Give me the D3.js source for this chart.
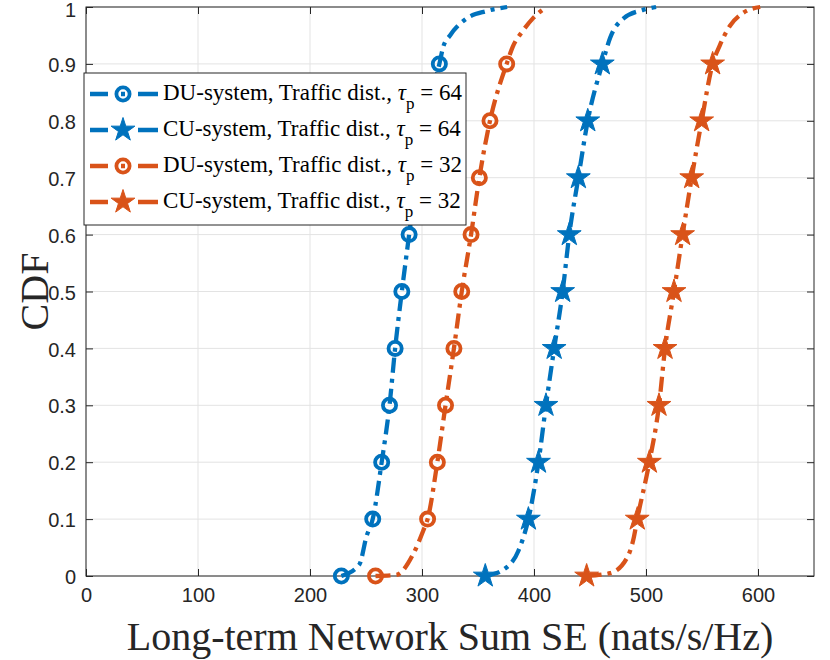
<!DOCTYPE html>
<html>
<head>
<meta charset="utf-8">
<script src="https://cdn.jsdelivr.net/npm/d3@7"></script>
<style>
  body { margin: 0; background: #fff; }
  svg { display: block; }
</style>
</head>
<body>
<div id="chart"></div>
<script>
// Axis ticks
const xTicks = [0, 100, 200, 300, 400, 500, 600];
const yTicks = [0, 0.1, 0.2, 0.3, 0.4, 0.5, 0.6, 0.7, 0.8, 0.9, 1];
const yTickLabels = ["0", "0.1", "0.2", "0.3", "0.4", "0.5", "0.6", "0.7", "0.8", "0.9", "1"];

// CDF levels where markers are drawn
const markerLevels = [0, 0.1, 0.2, 0.3, 0.4, 0.5, 0.6, 0.7, 0.8, 0.9];

// DU-system, tau_p = 64
const du64Cdf = [0, 0.02, 0.07, 0.1, 0.2, 0.3, 0.4, 0.5, 0.6, 0.7, 0.8, 0.9, 0.93, 0.95, 0.98, 0.993, 1];
const du64Se  = [228, 244, 250.5, 256, 264, 271, 276, 282, 288.5, 295, 303, 315.5, 319, 325, 340, 358, 376];

// CU-system, tau_p = 64
const cu64Cdf = [0, 0.011, 0.044, 0.1, 0.2, 0.3, 0.4, 0.5, 0.6, 0.7, 0.8, 0.9, 0.946, 0.98, 0.995, 1];
const cu64Se  = [356.5, 372.6, 386, 395, 404, 410.7, 418, 425.6, 431.5, 439.6, 448, 461, 468, 480, 497.5, 509];

// DU-system, tau_p = 32
const du32Cdf = [0, 0.002, 0.038, 0.079, 0.1, 0.2, 0.3, 0.4, 0.5, 0.6, 0.7, 0.8, 0.9, 0.93, 0.958, 0.98, 1];
const du32Se  = [258.5, 277, 292, 301, 305, 313.7, 321, 328.5, 335.5, 343.8, 351.2, 360.7, 375.6, 381, 390, 399, 411];

// CU-system, tau_p = 32
const cu32Cdf = [0, 0.005, 0.031, 0.064, 0.1, 0.2, 0.3, 0.4, 0.5, 0.6, 0.7, 0.8, 0.9, 0.933, 0.967, 0.99, 1];
const cu32Se  = [447, 468, 482.8, 488.7, 492.2, 503, 511.6, 517, 525, 532.7, 540.8, 549.7, 559.5, 566, 575, 587, 602];

const seriesLabels = ["DU-system, Traffic dist., ", "CU-system, Traffic dist., ", "DU-system, Traffic dist., ", "CU-system, Traffic dist., "];
const seriesTau = ["64", "64", "32", "32"];
const seriesColors = ["#0072BD", "#0072BD", "#D95319", "#D95319"];
const seriesMarkers = ["circle", "star", "circle", "star"];

const series = [
    { cdf: du64Cdf, se: du64Se },
    { cdf: cu64Cdf, se: cu64Se },
    { cdf: du32Cdf, se: du32Se },
    { cdf: cu32Cdf, se: cu32Se }
].map((s, i) => ({
    points: s.se.map((v, j) => ({ x: v, y: s.cdf[j] })),
    label: seriesLabels[i],
    tau: seriesTau[i],
    color: seriesColors[i],
    marker: seriesMarkers[i]
}));

const width = 830;
const height = 660;
const margin = { top: 7, right: 16, bottom: 84, left: 86 };
const axisColor = "#262626";
const dash = "15,6,4,6";

const svg = d3.select("#chart")
    .append("svg")
    .attr("width", width)
    .attr("height", height);

const x = d3.scaleLinear().domain([0, 650]).range([margin.left, width - margin.right]);
const y = d3.scaleLinear().domain([0, 1]).range([height - margin.bottom, margin.top]);

// grid
svg.append("g")
    .selectAll("line")
    .data(xTicks)
    .join("line")
    .attr("x1", d => x(d)).attr("x2", d => x(d))
    .attr("y1", y(0)).attr("y2", y(1))
    .attr("stroke", "#e3e3e3");

svg.append("g")
    .selectAll("line")
    .data(yTicks)
    .join("line")
    .attr("x1", x(0)).attr("x2", x(650))
    .attr("y1", d => y(d)).attr("y2", d => y(d))
    .attr("stroke", "#e3e3e3");

// axes (ticks point inward, box on)
const tickLen = 7;
const styleAxis = g => {
    g.select(".domain").remove();
    g.selectAll(".tick line").attr("stroke", axisColor);
    g.selectAll(".tick text")
        .attr("fill", axisColor)
        .style("font-family", "'Liberation Sans', Arial, sans-serif")
        .style("font-size", "20px");
};

svg.append("g")
    .attr("transform", `translate(0,${y(0)})`)
    .call(d3.axisBottom(x).tickValues(xTicks).tickSizeInner(-tickLen).tickSizeOuter(0).tickPadding(12))
    .call(styleAxis);

svg.append("g")
    .attr("transform", `translate(0,${y(1)})`)
    .call(d3.axisTop(x).tickValues(xTicks).tickSizeInner(-tickLen).tickSizeOuter(0).tickFormat(""))
    .call(styleAxis);

svg.append("g")
    .attr("transform", `translate(${x(0)},0)`)
    .call(d3.axisLeft(y).tickValues(yTicks).tickSizeInner(-tickLen).tickSizeOuter(0).tickPadding(10)
        .tickFormat((d, i) => yTickLabels[i]))
    .call(styleAxis)
    .call(g => g.selectAll(".tick text").attr("dy", d => d === 1 ? "0.48em" : "0.38em"));

svg.append("g")
    .attr("transform", `translate(${x(650)},0)`)
    .call(d3.axisRight(y).tickValues(yTicks).tickSizeInner(-tickLen).tickSizeOuter(0).tickFormat(""))
    .call(styleAxis);

svg.append("rect")
    .attr("x", x(0)).attr("y", y(1))
    .attr("width", x(650) - x(0)).attr("height", y(0) - y(1))
    .attr("fill", "none")
    .attr("stroke", axisColor)
    .attr("stroke-width", 1);

// lines and markers
const line = d3.line()
    .x(d => x(d.x))
    .y(d => y(d.y))
    .curve(d3.curveMonotoneX);

const starPath = d3.symbol(d3.symbolStar, 175)();

function drawMarker(g, type, color) {
    if (type === "circle") {
        g.append("circle")
            .attr("r", 6.6)
            .attr("fill", "none")
            .attr("stroke", color)
            .attr("stroke-width", 3.8);
    } else {
        g.append("path")
            .attr("d", starPath)
            .attr("fill", color)
            .attr("stroke", color)
            .attr("stroke-width", 1);
    }
}

series.forEach(s => {
    svg.append("path")
        .datum(s.points)
        .attr("d", line)
        .attr("fill", "none")
        .attr("stroke", s.color)
        .attr("stroke-width", 4.3)
        .attr("stroke-dasharray", dash);

    const marks = s.points.filter(p => markerLevels.some(l => Math.abs(l - p.y) < 1e-9));
    marks.forEach(p => {
        const g = svg.append("g").attr("transform", `translate(${x(p.x)},${y(p.y)})`);
        drawMarker(g, s.marker, s.color);
    });
});

// legend
const legend = svg.append("g").attr("transform", "translate(84,73)");
legend.append("rect")
    .attr("width", 382).attr("height", 152)
    .attr("fill", "#fff")
    .attr("stroke", axisColor)
    .attr("stroke-width", 1);

series.forEach((s, i) => {
    const cy = 21 + i * 36;
    const row = legend.append("g").attr("transform", `translate(0,${cy})`);
    row.append("line")
        .attr("x1", 6).attr("x2", 74)
        .attr("stroke", s.color)
        .attr("stroke-width", 4.3)
        .attr("stroke-dasharray", "18,13,4,13,20");
    drawMarker(row.append("g").attr("transform", "translate(39,0)"), s.marker, s.color);

    const t = row.append("text")
        .attr("x", 79).attr("y", 6)
        .attr("fill", "#000")
        .style("font-family", "'Liberation Serif', 'Times New Roman', serif")
        .style("font-size", "23px");
    t.append("tspan").text(s.label);
    t.append("tspan").style("font-style", "italic").text("τ");
    t.append("tspan").attr("dy", 9).style("font-size", "17px").text("p");
    t.append("tspan").attr("dy", -9).text(" = " + s.tau);
});

// axis titles
svg.append("text")
    .attr("x", (x(0) + x(650)) / 2)
    .attr("y", 650)
    .attr("text-anchor", "middle")
    .attr("fill", axisColor)
    .style("font-family", "'Liberation Serif', 'Times New Roman', serif")
    .style("font-size", "40px")
    .text("Long-term Network Sum SE (nats/s/Hz)");

svg.append("text")
    .attr("transform", `translate(48,${(y(0) + y(1)) / 2}) rotate(-90)`)
    .attr("text-anchor", "middle")
    .attr("fill", axisColor)
    .style("font-family", "'Liberation Serif', 'Times New Roman', serif")
    .style("font-size", "40px")
    .text("CDF");
</script>
</body>
</html>
